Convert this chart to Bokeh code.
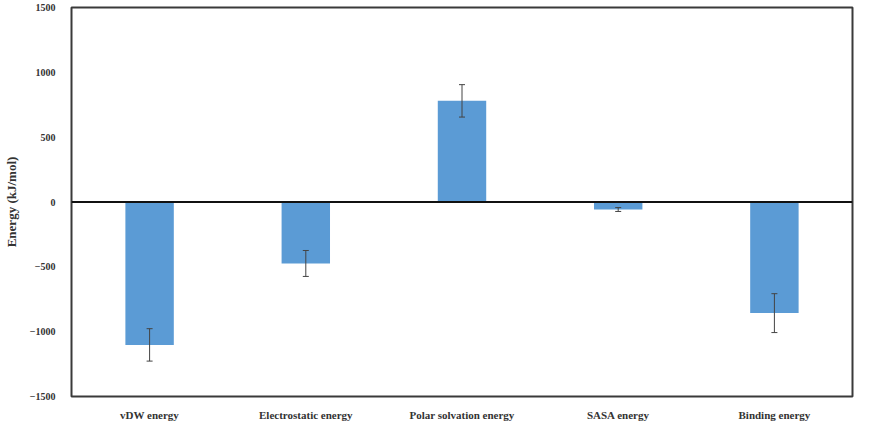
from bokeh.plotting import figure
from bokeh.models import ColumnDataSource, Range1d, FixedTicker, Span, Whisker, TeeHead
from bokeh.embed import file_html
from bokeh.resources import INLINE

categories = ["vDW energy", "Electrostatic energy", "Polar solvation energy", "SASA energy", "Binding energy"]
energy = [-1102, -474, 780, -58, -857]
error = [125, 100, 125, 15, 150]
y_ticks = [-1500, -1000, -500, 0, 500, 1000, 1500]

src = ColumnDataSource(dict(
    cat=categories,
    energy=energy,
    upper=[e + s for e, s in zip(energy, error)],
    lower=[e - s for e, s in zip(energy, error)],
))

p = figure(x_range=categories, width=856, height=423, output_backend="svg",
           toolbar_location=None, min_border_left=63, min_border_right=4,
           min_border_top=7, min_border_bottom=22)
p.y_range = Range1d(-1500, 1500)

p.vbar(x="cat", top="energy", bottom=0, width=0.31, source=src,
       fill_color="#5B9BD5", line_color=None)

p.add_layout(Span(location=0, dimension="width", line_color="#111111", line_width=2,
                  level="overlay"))

w = Whisker(base="cat", upper="upper", lower="lower", source=src,
            line_color="#444444", line_width=1, level="overlay",
            upper_head=TeeHead(size=6, line_color="#444444", line_width=1),
            lower_head=TeeHead(size=6, line_color="#444444", line_width=1))
p.add_layout(w)

p.grid.visible = False
p.outline_line_color = "#3a3a3a"
p.outline_line_width = 2
p.background_fill_color = "white"
p.border_fill_color = "white"

p.yaxis.ticker = FixedTicker(ticks=y_ticks)
p.yaxis.axis_label = "Energy (kJ/mol)"
p.yaxis.axis_label_text_font = "Liberation Serif"
p.yaxis.axis_label_text_font_style = "bold"
p.yaxis.axis_label_text_font_size = "13px"
p.yaxis.axis_label_text_color = "#333333"
p.yaxis.axis_label_standoff = 8

for ax in (p.xaxis, p.yaxis):
    ax.axis_line_color = None
    ax.major_tick_line_color = None
    ax.minor_tick_line_color = None
    ax.major_label_text_font = "Liberation Serif"
    ax.major_label_text_font_style = "bold"
    ax.major_label_text_color = "#333333"

p.yaxis.major_label_text_font_size = "10px"
p.yaxis.major_label_standoff = 10
p.xaxis.major_label_text_font_size = "11px"
p.xaxis.major_label_standoff = 6

open("out.html", "w").write(file_html(p, INLINE))
